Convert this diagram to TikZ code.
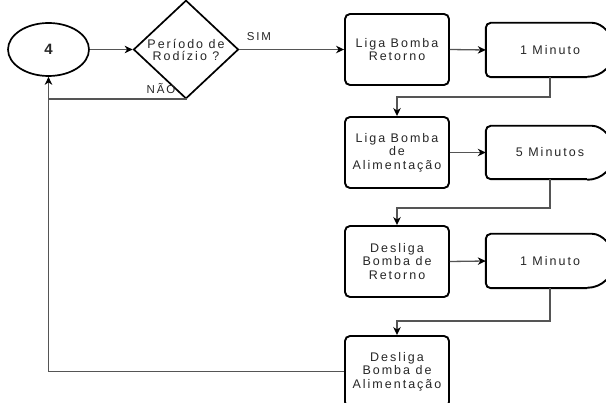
\documentclass[tikz,border=0pt]{standalone}
\usepackage{fontspec}
\setmainfont{Liberation Sans}
\newfontfamily\lblfont[LetterSpace=16]{Liberation Sans}
\usetikzlibrary{arrows.meta,shapes.geometric,calc}
\definecolor{txt}{HTML}{262626}
\definecolor{linec}{HTML}{555555}

% outline of a delay block: flat left side with rounded corners, half-round right side
\newcommand\delayoutline[1]{%
  \draw[boxline, rounded corners=5pt]
    ($(#1.south east)+(-27,0)$) -- (#1.south west) -- (#1.north west)
    -- ($(#1.north east)+(-27,0)$) [sharp corners]
    arc[start angle=90, end angle=-90, radius=27pt];}

\begin{document}
\begin{tikzpicture}[x=1pt, y=-1pt,
  every node/.style={font=\lblfont\fontsize{12.5}{13.5}\selectfont, text=txt, align=center},
  boxline/.style={draw=black, line width=1.9pt},
  stepbox/.style={boxline, rounded corners=5pt, minimum width=104pt, minimum height=71pt, inner sep=0pt},
  delaybox/.style={minimum width=128pt, minimum height=54pt, inner sep=0pt},
  decision/.style={diamond, draw=black, line width=1.7pt, minimum width=105pt, minimum height=82pt, inner sep=0pt,
    font=\lblfont\fontsize{12.5}{12}\selectfont},
  terminal/.style={ellipse, draw=black, line width=1.7pt, minimum width=81pt, minimum height=53pt, inner sep=0pt,
    font=\bfseries\fontsize{15}{15}\selectfont},
  conn/.style={draw=linec, line width=1.3pt},
  arrowed/.style={conn, -{Stealth[length=8pt, width=7.5pt, inset=2.5pt, color=black]}},
  tag/.style={font=\lblfont\fontsize{11.5}{11.5}\selectfont}
]
\useasboundingbox (0,0) rectangle (606,403);
\clip (0,0) rectangle (606,403);

% start connector and decision
\node[terminal] (c4) at (48.5,49.5) {4};
\node[decision] (dia) at (186,49.5) {Período de\\Rodízio ?};

% action blocks
\node[stepbox] (b1) at (397,49.5)  {Liga Bomba\\Retorno};
\node[stepbox] (b2) at (397,152.5) {Liga Bomba\\de\\Alimentação};
\node[stepbox] (b3) at (397,261.5) {Desliga\\Bomba de\\Retorno};
\node[stepbox] (b4) at (397,371.5) {Desliga\\Bomba de\\Alimentação};

% delay blocks
\node[delaybox] (d1) at (550,50)    {1 Minuto};
\node[delaybox, minimum height=53pt] (d2) at (550,152.5) {5 Minutos};
\node[delaybox] (d3) at (550,261)   {1 Minuto};
\delayoutline{d1}
\delayoutline{d2}
\delayoutline{d3}

% branch labels
\node[tag] (sim) at (259,37) {SIM};
\node[tag] (nao) at (161,89) {NÃO};

% connectors
\draw[arrowed] (c4.east) -- (dia.west);
\draw[arrowed] (dia.east) -- (b1.west);
\draw[arrowed] (b1.east) -- (d1.west);
\draw[arrowed] (b2.east) -- (d2.west);
\draw[arrowed] (b3.east) -- (d3.west);
\draw[arrowed] (d1.south) -- (d1.south |- 0,97)  -| (b2.north);
\draw[arrowed] (d2.south) -- (d2.south |- 0,208) -| (b3.north);
\draw[arrowed] (d3.south) -- (d3.south |- 0,321) -| (b4.north);
\draw[conn] (dia.south) |- (c4.south |- 0,99);
\draw[arrowed] (b4.west) -| (c4.south);
\end{tikzpicture}
\end{document}
